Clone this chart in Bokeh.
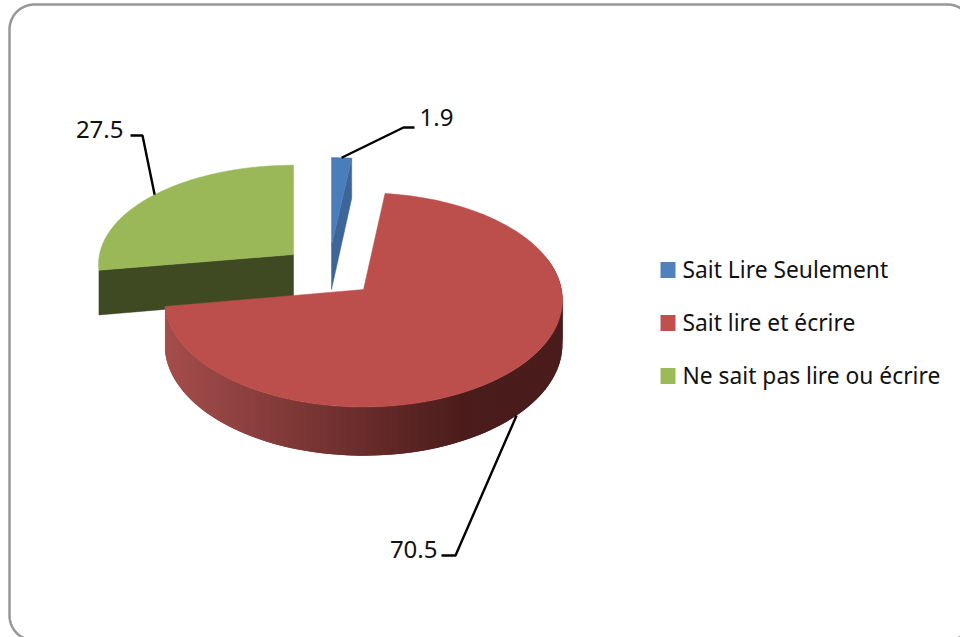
import numpy as np
from bokeh.plotting import figure
from bokeh.embed import file_html
from bokeh.resources import INLINE
from bokeh.core.properties import value

categories = ["Sait Lire Seulement", "Sait lire et écrire", "Ne sait pas lire ou écrire"]
values = [1.9, 70.5, 27.5]
value_labels = ["1.9", "70.5", "27.5"]
legend_colors = ["#4F81BD", "#C0504D", "#9BBB59"]
top_colors = ["#4A7EBB", "#BC4F4C", "#9BB858"]
cut_colors = ["#3E6598", None, "#3F4A23"]

FONT = "Noto Sans"
K = 0.0975
DEPTH = 44
# apex x, apex y, radius x, radius y of each exploded slice
geom = [(331, 245, 186, 96.5), (363, 289, 198, 106), (293, 254, 194, 98)]
# leader: elbow x, elbow y, end x ; label anchor
leader = [(403, 127, 414), (455, 555, 441), (142, 135, 130)]
label_pos = [(419, 117, "left"), (437, 549, "right"), (123, 129, "right")]

total = sum(values)
bounds = np.cumsum([0] + [v / total * 360 for v in values])


def project(g, deg):
    cx, cy, rx, ry = g
    t = np.radians(deg)
    z = np.cos(t)
    s = 1 / (1 + K * z)
    return cx + rx * np.sin(t) * s, cy - ry * z * s, DEPTH * s


def arc_poly(g, a, b, n=160):
    x, y, _ = project(g, np.linspace(a, b, n))
    return list(x) + [g[0]], list(y) + [g[1]]


p = figure(width=960, height=637, x_range=(0, 960), y_range=(637, 0),
           output_backend="svg", toolbar_location=None, min_border=0,
           outline_line_color=None, background_fill_color="white",
           border_fill_color="white", x_axis_type=None, y_axis_type=None)
p.grid.visible = False

# rounded frame
L, T, R, B, C = 9, 4, 972, 640, 25
fa = np.radians(np.linspace(0, 90, 24))
fx = list(L + C - C * np.cos(fa)) + list(R - C + C * np.sin(fa)) + list(R - C + C * np.cos(fa)) + list(L + C - C * np.sin(fa)) + [L]
fy = list(T + C - C * np.sin(fa)) + list(T + C - C * np.cos(fa)) + list(B - C + C * np.sin(fa)) + list(B - C + C * np.cos(fa)) + [T + C]
p.line(fx, fy, line_color="#979797", line_width=2.5)

order = [0, 2, 1]
for i in order:
    g = geom[i]
    a, b = bounds[i], bounds[i + 1]
    if i == 0:   # visible cut face on the trailing radius
        x, y, d = project(g, b)
        p.patch([x, g[0], g[0], x], [y, g[1], g[1] + DEPTH, y + d],
                fill_color=cut_colors[i], line_color=cut_colors[i], line_width=0.5)
    if i == 2:   # visible cut face on the leading radius
        x, y, d = project(g, a)
        p.patch([x, g[0], g[0], x], [y, g[1], g[1] + DEPTH, y + d],
                fill_color=cut_colors[i], line_color=cut_colors[i], line_width=0.5)
    if i == 1:   # curved outer wall with a horizontal shade
        ang = np.linspace(72, b, 110)
        sx, sy, sd = project(g, ang)
        xs, ys, cols = [], [], []
        c0, c1 = np.array([0xA5, 0x4E, 0x4C]), np.array([0x4A, 0x1C, 0x1B])
        # drawn from the right: each strip runs under the next one, so no seams show
        for j in range(len(ang) - 2):
            xs.append([sx[j], sx[j + 2], sx[j + 2], sx[j]])
            ys.append([sy[j], sy[j + 2], sy[j + 2] + sd[j + 2], sy[j] + sd[j]])
            tt = np.clip((sx[j] - 167) / (470 - 167), 0, 1)
            c = (c0 + (c1 - c0) * tt).astype(int)
            cols.append("#%02x%02x%02x" % tuple(c))
        p.patches(xs, ys, fill_color=cols, line_color=None)
    px, py = arc_poly(g, a, b)
    p.patch(px, py, fill_color=top_colors[i], line_color=top_colors[i], line_width=0.5)

# leaders and value labels
for i in range(3):
    g = geom[i]
    mid = (bounds[i] + bounds[i + 1]) / 2
    x, y, d = project(g, mid)
    if i == 1:
        y = y + d
    ex, ey, fx_end = leader[i]
    p.line([x, ex, fx_end], [y, ey, ey], line_color="black", line_width=2.4)
    lx, ly, al = label_pos[i]
    p.text([lx], [ly], text=[value_labels[i]], text_font=value(FONT), text_font_size="24px",
           text_color="#111111", text_align=al, text_baseline="middle")

# legend
leg_y = [269.5, 322.5, 375.5]
for i, name in enumerate(categories):
    p.rect([667.5], [leg_y[i]], width=15, height=16, fill_color=legend_colors[i], line_color=None)
    p.text([682], [leg_y[i] - 1], text=[name], text_font=value(FONT), text_font_size="22.8px",
           text_color="#111111", text_align="left", text_baseline="middle")

open("out.html", "w").write(file_html(p, INLINE))
